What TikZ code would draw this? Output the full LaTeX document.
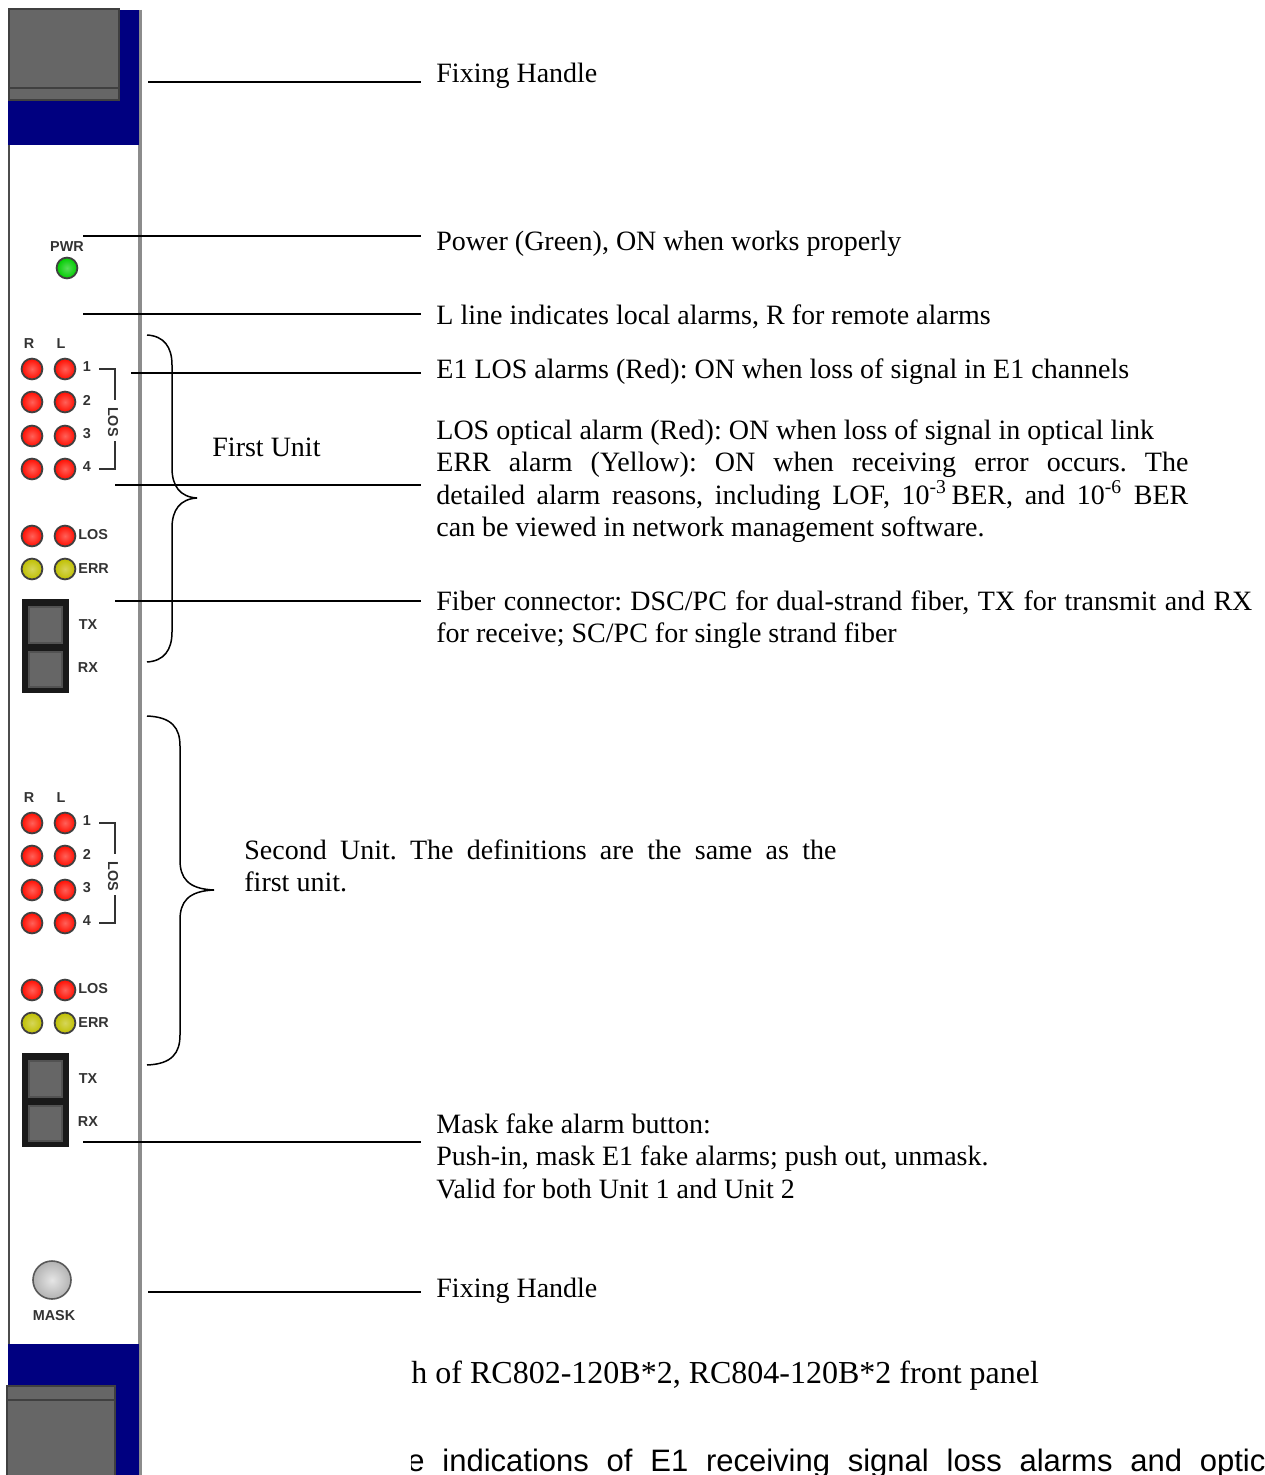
\documentclass[tikz,border=0pt]{standalone}
\usepackage{fontspec}
\setmainfont{Liberation Serif}
\newfontfamily\panelfont{Liberation Sans}
\definecolor{panelblue}{HTML}{000080}
\definecolor{handlegray}{HTML}{666666}
\definecolor{edgegray}{HTML}{8C8C8C}
\tikzset{
  led/.style={circle, draw=black!75, line width=.9pt, minimum size=10.4pt, inner sep=0pt, inner color=#1!65!white, outer color=#1},
  tag/.style={font=\panelfont\bfseries\fontsize{7.2}{8}\selectfont, text=black!80, inner sep=0pt},
  lab/.style={font=\frenchspacing\fontsize{14}{16.25}\selectfont, anchor=west, inner sep=0pt, align=left},
  just/.style={font=\frenchspacing\fontsize{14}{16.25}\selectfont, anchor=north west, inner sep=0pt, text width=#1, align=justify},
  lead/.style={line width=.75pt, shorten >=7.5pt},
  plate/.style={draw=black!75, line width=.9pt, fill=handlegray},
}
\begin{document}
\begin{tikzpicture}[x=.5pt, y=-.5pt]
        \useasboundingbox (0,0) rectangle (1264,1475);
        % front panel
        \draw[black!70, line width=1pt] (9,145) -- (9,1344);
        \draw[edgegray, line width=1.8pt] (140,10) -- (140,1475);
        \fill[panelblue] (8,10) rectangle (139,145);
        \fill[panelblue] (8,1344) rectangle (139,1475);
        \draw[plate] (9,9) rectangle (119,100);
        \draw[plate] (8,88) -- (119,88);
        \draw[plate] (7,1386) rectangle (115,1480);
        \draw[plate] (7,1400) -- (115,1400);
        % power
        \node[tag] (pwrtag) at (67,247) {PWR};
        \node[led=green!80!black] (pwr) at (67,268) {};
        % both units
        \foreach \u/\d in {a/0,b/454} {
            \node[tag] (r\u) at (29,344+\d) {R};
            \node[tag] (l\u) at (61,344+\d) {L};
            \foreach \i/\y in {1/369,2/402,3/436,4/469} {
                \node[led=red!90!orange] (r\u\i) at (32,\y+\d) {};
                \node[led=red!90!orange] (l\u\i) at (65,\y+\d) {};
                \node[tag] (n\u\i) at (87,\y-2+\d) {\i};
            }
            \node[led=red!90!orange] (r\u los) at (32,536+\d) {};
            \node[led=red!90!orange] (l\u los) at (65,536+\d) {};
            \node[led=yellow!75!black] (r\u err) at (32,569+\d) {};
            \node[led=yellow!75!black] (l\u err) at (65,569+\d) {};
            \node[tag, anchor=west] (t\u los) at (78,535+\d) {LOS};
            \node[tag, anchor=west] (t\u err) at (78,569+\d) {ERR};
            \node[tag, rotate=-90] (t\u side) at (113,422+\d) {LOS};
            \draw[black!80, line width=.8pt] (99,369+\d) -- (115,369+\d) -- (115,400+\d);
            \draw[black!80, line width=.8pt] (99,469+\d) -- (115,469+\d) -- (115,441+\d);
            \fill[black!90] (22,599+\d) rectangle (69,693+\d);
            \draw[handlegray!80!black, fill=handlegray, line width=.6pt] (29,607+\d) rectangle (62,643+\d);
            \draw[handlegray!80!black, fill=handlegray, line width=.6pt] (29,652+\d) rectangle (62,687+\d);
            \node[tag] (t\u tx) at (88,625+\d) {TX};
            \node[tag] (t\u rx) at (88,668+\d) {RX};
        }
        % mask button
        \node[circle, draw=black!65, line width=.8pt, minimum size=19pt, inner sep=0pt, inner color=black!10, outer color=black!30] (mask) at (52,1280) {};
        \node[tag] (masktag) at (54,1316) {MASK};
        % braces
        \foreach \t/\m/\b/\v/\p in {335/498/662/172/197,716/890/1065/180/214} {
            \draw[line width=.75pt] (147,\t) .. controls (\v-8,\t+1) and (\v,\t+12) .. (\v,\t+30)
                -- (\v,\m-30) .. controls (\v,\m-12) and (\v+8,\m-1) .. (\p,\m)
                .. controls (\v+8,\m+1) and (\v,\m+12) .. (\v,\m+30)
                -- (\v,\b-30) .. controls (\v,\b-12) and (\v-8,\b-1) .. (147,\b);
        }
        % labels
        \node[lab] (handletop) at (436,76) {Fixing Handle};
        \node[lab] (power) at (436,244) {Power (Green), ON when works properly};
        \node[lab] (lline) at (436,317) {L line indicates local alarms, R for remote alarms};
        \node[lab] (eone) at (436,372) {E1 LOS alarms (Red): ON when loss of signal in E1 channels};
        \node[just=376pt] (optical) at (436,419) {LOS optical alarm (Red): ON when loss of signal in optical link\\
            ERR alarm (Yellow): ON when receiving error occurs. The\linebreak detailed alarm reasons, including LOF, 10\textsuperscript{-3}\,BER, and 10\textsuperscript{-6} BER\linebreak can be viewed in network management software.};
        \node[just=408pt] (fiber) at (436,590) {Fiber connector: DSC/PC for dual-strand fiber, TX for transmit and RX for receive; SC/PC for single strand fiber};
        \node[lab] (firstunit) at (212,447) {First Unit};
        \node[just=296pt] (secondunit) at (244,839) {Second Unit. The definitions are the same as the\linebreak first unit.};
        \node[lab] (maskinfo) at (436,1156) {Mask fake alarm button:\\Push-in, mask E1 fake alarms; push out, unmask.\\Valid for both Unit 1 and Unit 2};
        \node[lab] (handlebot) at (436,1291) {Fixing Handle};
        % leaders
        \coordinate (c1) at (148,82);
        \coordinate (c2) at (83,236);
        \coordinate (c3) at (83,314);
        \coordinate (c4) at (131,373);
        \coordinate (c5) at (115,485);
        \coordinate (c6) at (115,601);
        \coordinate (c7) at (83,1142);
        \coordinate (c8) at (148,1292);
        \draw[lead] (c1) -- (c1 -| handletop.west);
        \draw[lead] (c2) -- (c2 -| power.west);
        \draw[lead] (c3) -- (c3 -| lline.west);
        \draw[lead] (c4) -- (c4 -| eone.west);
        \draw[lead] (c5) -- (c5 -| optical.west);
        \draw[lead] (c6) -- (c6 -| fiber.west);
        \draw[lead] (c7) -- (c7 -| maskinfo.west);
        \draw[lead] (c8) -- (c8 -| handlebot.west);
        % cut-off page text
        \begin{scope}
            \clip (411,1340) rectangle (1264,1475);
            \node[lab, font=\fontsize{16}{18}\selectfont] (caption) at (411,1376) {h of RC802-120B*2, RC804-120B*2 front panel};
            \node[lab, font=\panelfont\fontsize{15.5}{18}\selectfont] (indication) at (407,1463) {\spaceskip=8.9pt\relax e indications of E1 receiving signal loss alarms and optic};
        \end{scope}
\end{tikzpicture}
\end{document}
